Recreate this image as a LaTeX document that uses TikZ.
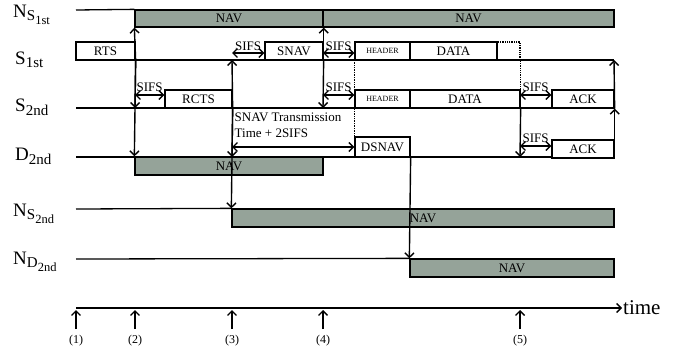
\documentclass[tikz,border=0pt]{standalone}
\usepackage{fontspec}
\setmainfont{Liberation Serif}
\usetikzlibrary{arrows.meta,positioning,calc}
\DeclareMathSizes{19}{19}{15}{12.5}
\definecolor{ink}{RGB}{0,0,0}
\definecolor{navfill}{RGB}{149,163,153}
\tikzset{
  lane/.style={line width=1.3pt,draw=ink},
  box/.style={draw=ink,line width=1.3pt,fill=white,inner sep=0pt,minimum height=18pt,font=\fontsize{13}{13}\selectfont},
  navbox/.style={box,fill=navfill,minimum height=17pt},
  hdrbox/.style={box,font=\fontsize{8}{8}\selectfont},
  padbox/.style={draw=ink,line width=1.3pt,densely dotted,inner sep=0pt,minimum height=18pt},
  sig/.style={-{Straight Barb[length=4.5pt,width=9pt]},line width=1.4pt,draw=ink},
  sifs/.style={{Straight Barb[length=4.5pt,width=9pt]}-{Straight Barb[length=4.5pt,width=9pt]},line width=1.4pt,draw=ink},
  guide/.style={line width=0.7pt,densely dotted,draw=ink},
  padline/.style={line width=1.3pt,densely dotted,draw=ink},
  note/.style={font=\fontsize{13}{13}\selectfont,inner sep=0.5pt,anchor=south},
  rowname/.style={font=\fontsize{19}{21}\selectfont,anchor=base west,inner sep=0pt},
  ticklbl/.style={font=\fontsize{12}{12}\selectfont,inner sep=0pt}
}
\begin{document}
\begin{tikzpicture}[x=1pt,y=-1pt]
  \useasboundingbox (0,0) rectangle (693,356);

  % row names
  \node[rowname] (nNs1) at (13,17) {$\mathrm{N}_{\mathrm{S}_{\mathrm{1st}}}$};
  \node[rowname] (nS1) at (15,64) {$\mathrm{S}_{\mathrm{1st}}$};
  \node[rowname] (nS2) at (15,111) {$\mathrm{S}_{\mathrm{2nd}}$};
  \node[rowname] (nD2) at (15,160) {$\mathrm{D}_{\mathrm{2nd}}$};
  \node[rowname] (nNs2) at (13,216) {$\mathrm{N}_{\mathrm{S}_{\mathrm{2nd}}}$};
  \node[rowname] (nNd2) at (13,264) {$\mathrm{N}_{\mathrm{D}_{\mathrm{2nd}}}$};

  % lanes
  \coordinate (ns1L) at (76,10);
  \coordinate (s1L) at (76,60);   \coordinate (s1R) at (614,60);
  \coordinate (s2L) at (76,108);  \coordinate (s2R) at (614,108);
  \coordinate (d2L) at (76,157);  \coordinate (d2R) at (614,157);
  \coordinate (ns2L) at (76,209);
  \coordinate (nd2L) at (76,259);
  \coordinate (tL) at (76,308);   \coordinate (tR) at (622,308);

  \draw[lane] (s1L) -- (s1R);
  \draw[lane] (s2L) -- (s2R);
  \draw[lane] (d2L) -- (d2R);

  % frames
  \node[navbox,minimum width=188pt] (navA) at (229,18.5) {NAV};
  \node[navbox,minimum width=291pt] (navB) at (468.5,18.5) {NAV};
  \node[box,minimum width=59pt] (rts) at (105.5,51) {RTS};
  \node[box,minimum width=58pt] (snav) at (294,51) {SNAV};
  \node[hdrbox,minimum width=55pt] (hdr1) at (382.5,51) {HEADER};
  \node[box,minimum width=87pt] (data1) at (453.5,51) {DATA};
  \node[padbox,minimum width=23pt] (pad) at (508.5,51) {};
  \node[box,minimum width=67pt] (rcts) at (198.5,99) {RCTS};
  \node[hdrbox,minimum width=55pt] (hdr2) at (382.5,99) {HEADER};
  \node[box,minimum width=110pt] (data2) at (465,99) {DATA};
  \node[box,minimum width=62pt] (ack1) at (583,99) {ACK};
  \node[navbox,minimum width=188pt,minimum height=18pt] (navC) at (229,166) {NAV};
  \node[box,minimum width=55pt,minimum height=20pt] (dsnav) at (382.5,147) {DSNAV};
  \node[box,minimum width=62pt] (ack2) at (583,149) {ACK};
  \node[navbox,minimum width=382pt,minimum height=18pt] (navD) at (423,218) {NAV};
  \node[navbox,minimum width=204pt,minimum height=18pt] (navE) at (512,268) {NAV};

  \draw[lane] (ns1L) -- (navA.north west);
  \draw[lane] (ns2L) -- (navD.north west);
  \draw[lane] (nd2L) -- (navE.north west);

  % triggers
  \coordinate (s2at135) at (135,108);
  \coordinate (s1at232) at (232,60);
  \coordinate (d2at232) at (232,157);
  \coordinate (s2at323) at (323,108);
  \coordinate (d2at520) at (520,157);
  \draw[sig] (rts.south east) -- (navA.south west);
  \draw[sig] (rts.south east) -- (s2at135);
  \draw[sig] (rts.south east) -- (navC.north west);
  \draw[sig] (rcts.south east) -- (s1at232);
  \draw[sig] (rcts.south east) -- (d2at232);
  \draw[sig] (rcts.south east) -- (navD.north west);
  \draw[sig] (snav.south east) -- (navA.south east);
  \draw[sig] (snav.south east) -- (s2at323);
  \draw[guide] (hdr1.north west) -- (dsnav.north west);
  \draw[sig] (dsnav.south east) -- (navE.north west);
  \draw[padline] (pad.south east) -- (data2.north east);
  \draw[sig] (data2.south east) -- (d2at520);
  \draw[sig] (ack1.south east) -- (s1R);
  \draw[sig] (ack2.south east) -- (ack1.south east);

  % SIFS gaps
  \coordinate (g1) at (232,53);
  \coordinate (g2) at (323,53);
  \coordinate (g3) at (135,95);
  \coordinate (g4) at (323,95);
  \coordinate (g5) at (520,95);
  \coordinate (g6) at (520,146);
  \coordinate (g7) at (232,147);
  \draw[sifs] (g1) -- (g1 -| snav.west) node[note,midway,above=1pt] (sifs1) {SIFS};
  \draw[sifs] (g2) -- (g2 -| hdr1.west) node[note,midway,above=1pt] (sifs2) {SIFS};
  \draw[sifs] (g3) -- (g3 -| rcts.west) node[note,midway,above=2pt] (sifs3) {SIFS};
  \draw[sifs] (g4) -- (g4 -| hdr2.west) node[note,midway,above=2pt] (sifs4) {SIFS};
  \draw[sifs] (g5) -- (g5 -| ack1.west) node[note,midway,above=2pt] (sifs5) {SIFS};
  \draw[sifs] (g6) -- (g6 -| ack2.west) node[note,midway,above=2pt] (sifs6) {SIFS};
  \draw[sifs] (g7) -- (g7 -| dsnav.west);
  \node[note,anchor=north west,align=left,font=\fontsize{13}{16}\selectfont] (snavtime) at (234,112) {SNAV Transmission\\Time + 2SIFS};

  % time axis
  \draw[sig] (tL) -- (tR);
  \node[font=\fontsize{21}{21}\selectfont,anchor=west,inner sep=1pt] (timelbl) at (tR) {time};
  \foreach \x/\k in {76/1,135/2,232/3,323/4,520/5}{
    \coordinate (tb\k) at (\x,329);
    \coordinate (tt\k) at (\x,310);
    \draw[sig] (tb\k) -- (tt\k);
    \node[ticklbl] (tl\k) at (\x,341) {(\k)};
  }
\end{tikzpicture}
\end{document}
